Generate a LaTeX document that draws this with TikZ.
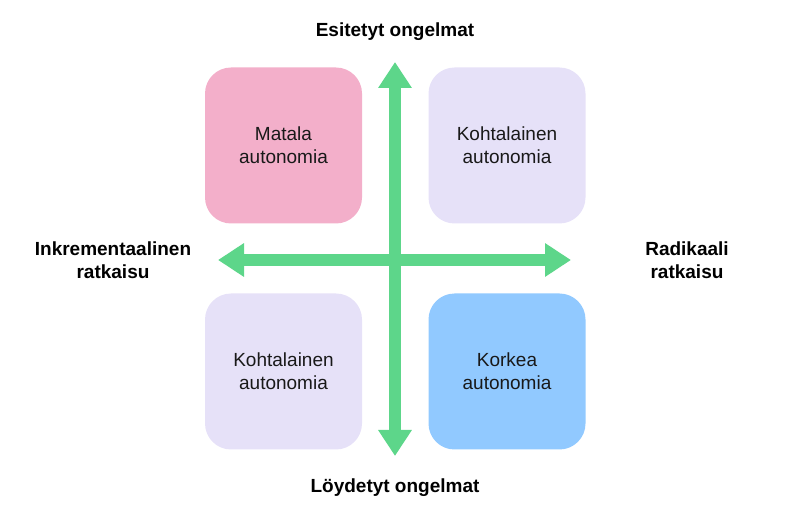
\documentclass[tikz,border=0pt]{standalone}
\usepackage{fontspec}
\setmainfont{Liberation Sans}
\usetikzlibrary{arrows.meta}
\definecolor{pinkc}{HTML}{F3AFCA}
\definecolor{lav}{HTML}{E6E1F8}
\definecolor{bluec}{HTML}{91C9FF}
\definecolor{grn}{HTML}{5DD68A}
\begin{document}
\begin{tikzpicture}[x=1pt,y=-1pt,
 box/.style={rounded corners=26pt,minimum width=157pt,minimum height=156pt,inner sep=0pt,align=center,font=\fontsize{19}{23}\selectfont,text=black!90},
 lbl/.style={font=\bfseries\fontsize{19}{23}\selectfont,align=center},
 ax/.style={draw=grn,line width=12pt,{Triangle[width=32pt,length=26pt]}-{Triangle[width=32pt,length=26pt]}}]
\useasboundingbox (0,0) rectangle (790,518);
\node[box,fill=pinkc] (tl) at (283.5,145.5) {Matala\\autonomia};
\node[box,fill=lav] (tr) at (507,145.5) {Kohtalainen\\autonomia};
\node[box,fill=lav] (bl) at (283.5,371.5) {Kohtalainen\\autonomia};
\node[box,fill=bluec] (br) at (507,371.5) {Korkea\\autonomia};
\coordinate (vt) at (395,62);
\coordinate (vb) at (395,456);
\coordinate (hl) at (218,260);
\coordinate (hr) at (571,260);
\draw[ax] (vt) -- (vb);
\draw[ax] (hl) -- (hr);
\node[lbl] (top) at (395,32) {Esitetyt ongelmat};
\node[lbl] (bot) at (395,488) {Löydetyt ongelmat};
\node[lbl] (lft) at (113,260) {Inkrementaalinen\\ratkaisu};
\node[lbl] (rgt) at (687,260) {Radikaali\\ratkaisu};
\end{tikzpicture}
\end{document}
